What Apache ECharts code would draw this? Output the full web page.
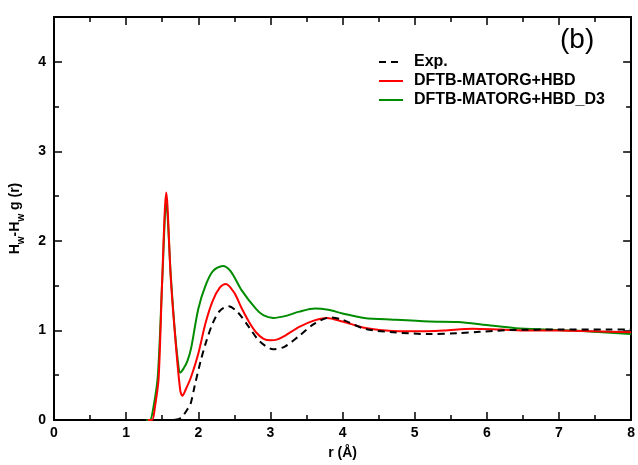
<!DOCTYPE html>
<html>
<head>
<meta charset="utf-8">
<script src="https://cdn.jsdelivr.net/npm/echarts@6/dist/echarts.min.js"></script>
<style>html,body{margin:0;padding:0;background:#fff}#c{width:638px;height:465px}</style>
</head>
<body>
<div id="c"></div>
<script>
const seriesNames = ['Exp.', 'DFTB-MATORG+HBD', 'DFTB-MATORG+HBD_D3'];
const xTicks = [0,1,2,3,4,5,6,7,8];
const yTicks = [0,1,2,3,4];

const expR = [1.5,1.6,1.7,1.75,1.8,1.85,1.89,1.95,2.03,2.1,2.2,2.3,2.42,2.55,2.7,2.85,3.04,3.2,3.4,3.6,3.83,4.0,4.3,4.7,5.2,5.6,5.9,6.36,7.0,7.7,8.0];
const expG = [0,0,0.005,0.02,0.06,0.12,0.17,0.38,0.65,0.85,1.08,1.22,1.27,1.2,1.04,0.88,0.79,0.82,0.94,1.07,1.145,1.12,1.02,0.98,0.96,0.97,0.985,1.005,1.01,1.01,1.01];

const hbdR = [1.3,1.36,1.40,1.45,1.50,1.556,1.62,1.69,1.75,1.78,1.82,1.9,2.0,2.1,2.2,2.3,2.38,2.5,2.6,2.7,2.8,2.9,3.0,3.1,3.2,3.4,3.6,3.78,4.0,4.3,4.6,5.0,5.4,5.8,6.2,6.6,7.0,7.5,8.0];
const hbdG = [0,0,0.15,0.46,1.57,2.54,1.57,0.83,0.33,0.27,0.33,0.48,0.74,1.08,1.33,1.48,1.52,1.42,1.25,1.1,0.98,0.91,0.89,0.9,0.94,1.04,1.11,1.14,1.10,1.03,1.0,0.99,1.0,1.02,1.01,1.0,1.0,0.99,0.98];

const d3R = [1.28,1.33,1.38,1.44,1.50,1.556,1.62,1.68,1.73,1.75,1.80,1.85,1.9,2.0,2.1,2.2,2.34,2.45,2.6,2.8,2.9,3.04,3.2,3.4,3.62,3.8,4.0,4.3,4.7,5.2,5.6,6.0,6.4,6.8,7.2,7.6,8.0];
const d3G = [0,0,0.15,0.5,1.55,2.43,1.6,0.95,0.57,0.53,0.58,0.66,0.8,1.24,1.5,1.66,1.72,1.66,1.45,1.24,1.17,1.14,1.16,1.21,1.245,1.23,1.19,1.14,1.12,1.10,1.095,1.06,1.025,1.01,1.0,0.98,0.96];

const zip = (a,b) => a.map((v,i)=>[v,b[i]]);
const FF = '"Liberation Sans", Arial, sans-serif';

const axisCommon = {
  axisLine:{show:true,onZero:false,lineStyle:{color:'#000',width:2}},
  axisTick:{show:true,inside:true,length:8,lineStyle:{color:'#000',width:1.5}},
  minorTick:{show:true,splitNumber:2,length:5,lineStyle:{color:'#000',width:1.5}},
  splitLine:{show:false}
};

const chart = echarts.init(document.getElementById('c'));
chart.setOption({
  animation:false,
  backgroundColor:'#fff',
  title:{text:'(b)',left:555,top:21,textStyle:{fontFamily:FF,fontSize:28,fontWeight:'normal',color:'#000'}},
  grid:{left:53,right:6,top:17,bottom:44},
  legend:{
    orient:'vertical',left:373,top:49,itemWidth:24,itemHeight:10,itemGap:3,
    data:seriesNames,
    itemStyle:{opacity:0},
    textStyle:{fontFamily:FF,fontSize:16,fontWeight:'bold',color:'#000',padding:[0,0,0,6]}
  },
  xAxis:[
    Object.assign({type:'value',min:0,max:8,interval:1,position:'bottom',
      name:'r (Å)',nameLocation:'middle',nameGap:26,
      nameTextStyle:{fontFamily:FF,fontSize:14,fontWeight:'bold',color:'#000'},
      axisLabel:{fontFamily:FF,fontSize:14,fontWeight:'bold',color:'#000',margin:6}},axisCommon),
    Object.assign({type:'value',min:0,max:8,interval:1,position:'top',axisLabel:{show:false}},axisCommon)
  ],
  yAxis:[
    Object.assign({type:'value',min:0,max:4.5,interval:1,position:'left',
      name:'{m|H}{s|w}{m|-H}{s|w}{m| g (r)}',nameLocation:'middle',nameGap:28,nameRotate:90,
      nameTextStyle:{fontFamily:FF,fontSize:14,fontWeight:'bold',color:'#000',
        rich:{
          m:{fontFamily:FF,fontSize:14,fontWeight:'bold',color:'#000',lineHeight:18,verticalAlign:'top'},
          s:{fontFamily:FF,fontSize:10,fontWeight:'bold',color:'#000',lineHeight:18,verticalAlign:'bottom',padding:[6,0,0,0]}
        }},
      axisLabel:{fontFamily:FF,fontSize:14,fontWeight:'bold',color:'#000',margin:8,
        formatter:v=>Number.isInteger(v)?String(v):''}},axisCommon),
    Object.assign({type:'value',min:0,max:4.5,interval:1,position:'right',axisLabel:{show:false}},axisCommon)
  ],
  series:[
    {name:seriesNames[0],type:'line',data:zip(expR,expG),smooth:0.3,showSymbol:false,symbol:'none',
      lineStyle:{color:'#000',width:2,type:[7,5]},itemStyle:{color:'#000'},z:3},
    {name:seriesNames[1],type:'line',data:zip(hbdR,hbdG),smooth:0.3,showSymbol:false,symbol:'none',
      lineStyle:{color:'#ff0000',width:2},itemStyle:{color:'#ff0000'},z:2},
    {name:seriesNames[2],type:'line',data:zip(d3R,d3G),smooth:0.3,showSymbol:false,symbol:'none',
      lineStyle:{color:'#008c00',width:2},itemStyle:{color:'#008c00'},z:1}
  ]
});
</script>
</body>
</html>
